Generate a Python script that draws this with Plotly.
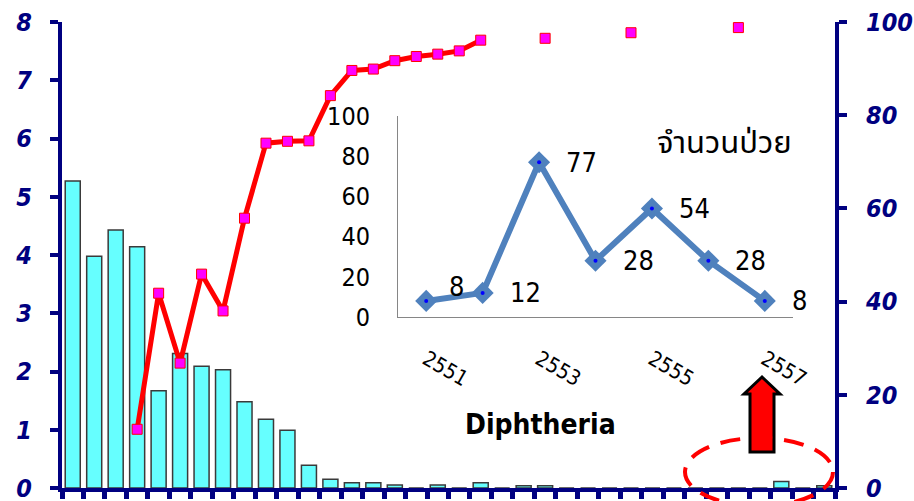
import plotly.graph_objects as go

# Weekly morbidity rate (left axis, bars) and cumulative percent (right axis, line)
weeks = list(range(1, 37))
rate = [5.27, 3.98, 4.43, 4.14, 1.67, 2.31, 2.09, 2.03, 1.48, 1.18, 0.99, 0.39,
        0.15, 0.09, 0.09, 0.05, 0.0, 0.05, 0.0, 0.09, 0.0, 0.04, 0.04, 0.0,
        0.0, 0.0, 0.0, 0.0, 0.0, 0.0, 0.0, 0.0, 0.0, 0.11, 0.0, 0.04]
cum_pct = [None, None, None, 12.6, 41.8, 26.8, 45.9, 38.0, 57.9, 74.0, 74.4, 74.5,
           84.2, 89.6, 89.9, 91.7, 92.6, 93.1, 93.8, 96.1, None, None, 96.5, None,
           None, None, 97.7, None, None, None, None, 98.8, None, None, None, None]

# Reported patients per year (inset chart)
years = ["2551", "2552", "2553", "2554", "2555", "2556", "2557"]
patients = [8, 12, 77, 28, 54, 28, 8]
year_ticks = ["2551", "2553", "2555", "2557"]

NAVY = "#000080"
FONT = "DejaVu Sans Condensed, DejaVu Sans, sans-serif"
THAI_FONT = "Noto Sans Thai, Tahoma, DejaVu Sans, sans-serif"

W, H = 914, 501
ML, MR, MT, MB = 62, 79, 22, 13
PW, PH = W - ML - MR, H - MT - MB


def fx(px):
    """Figure pixel column -> paper fraction of the plot area."""
    return (px - ML) / PW


def fy(py):
    """Figure pixel row -> paper fraction of the plot area."""
    return (H - MB - py) / PH


fig = go.Figure()

fig.add_trace(go.Bar(
    x=weeks, y=rate, width=0.7,
    marker=dict(color="#66FFFF", line=dict(color="#3a3a3a", width=1.5)),
    xaxis="x", yaxis="y", showlegend=False,
))

fig.add_trace(go.Scatter(
    x=weeks, y=cum_pct, mode="lines+markers", connectgaps=False,
    line=dict(color="#FF0000", width=5),
    marker=dict(symbol="square", size=10, color="#FF00FF",
                line=dict(color="#FF0000", width=1)),
    xaxis="x", yaxis="y2", showlegend=False,
))

fig.add_trace(go.Scatter(
    x=years, y=patients, mode="lines+markers",
    line=dict(color="#4F81BD", width=6),
    marker=dict(symbol="diamond", size=17, color="#4F81BD"),
    xaxis="x2", yaxis="y3", showlegend=False,
))
fig.add_trace(go.Scatter(
    x=years, y=patients, mode="markers",
    marker=dict(size=4, color="#0000FF"),
    xaxis="x2", yaxis="y3", showlegend=False,
))

main_tickfont = dict(family=FONT, size=25, color=NAVY, weight="bold", style="italic")

fig.update_layout(
    width=W, height=H,
    margin=dict(l=ML, r=MR, t=MT, b=MB, autoexpand=False),
    paper_bgcolor="white", plot_bgcolor="rgba(0,0,0,0)",
    bargap=0.3,
    xaxis=dict(
        range=[0.5, 36.5], tickmode="array",
        tickvals=[w + 0.5 for w in range(0, 37)],
        showticklabels=False, ticks="outside", ticklen=7, tickwidth=5,
        tickcolor=NAVY, showline=True, linewidth=4, linecolor=NAVY,
        showgrid=False, zeroline=False, automargin=False,
    ),
    yaxis=dict(
        range=[0, 8], dtick=1, ticks="outside", ticklen=8, tickwidth=4,
        tickcolor=NAVY, showline=True, linewidth=4, linecolor=NAVY,
        showgrid=False, zeroline=False, tickfont=main_tickfont,
        ticklabelstandoff=13, automargin=False, ticklabeloverflow="allow",
    ),
    yaxis2=dict(
        overlaying="y", side="right", range=[0, 100], dtick=20,
        ticks="outside", ticklen=8, tickwidth=4, tickcolor=NAVY,
        showline=True, linewidth=4, linecolor=NAVY,
        showgrid=False, zeroline=False, tickfont=main_tickfont,
        ticklabelstandoff=14, automargin=False, ticklabeloverflow="allow",
    ),
    xaxis2=dict(
        domain=[fx(398), fx(793)], anchor="y3", type="category",
        categoryorder="array", categoryarray=years,
        range=[-0.5, len(years) - 0.5],
        tickmode="array", tickvals=year_ticks, ticktext=year_ticks,
        tickangle=30, ticks="", showline=True, linewidth=1,
        linecolor="#868686", showgrid=False, zeroline=False,
        tickfont=dict(family=FONT, size=21, color="black"),
        ticklabelstandoff=21, automargin=False,
    ),
    yaxis3=dict(
        domain=[fy(317), fy(116)], anchor="x2", range=[0, 100], dtick=20,
        ticks="", showline=True, linewidth=1, linecolor="#868686",
        showgrid=False, zeroline=False,
        tickfont=dict(family=FONT, size=25, color="black"),
        ticklabelstandoff=22, automargin=False,
    ),
)

# Value labels next to each inset point (x given as category index)
annotations = []
for i, val in enumerate(patients):
    annotations.append(dict(
        x=i, y=val, xref="x2", yref="y3", text=str(val), showarrow=False,
        xanchor="left", yanchor="middle",
        xshift=21 if i == 0 else 25, yshift=14 if i == 0 else 0,
        font=dict(family=FONT, size=27, color="black"),
    ))

annotations.append(dict(
    x=fx(724), y=fy(143), xref="paper", yref="paper", text="จำนวนป่วย",
    showarrow=False, xanchor="center", yanchor="middle",
    font=dict(family=THAI_FONT, size=31, color="black"),
))
annotations.append(dict(
    x=fx(540), y=fy(424), xref="paper", yref="paper", text="<b>Diphtheria</b>",
    showarrow=False, xanchor="center", yanchor="middle",
    font=dict(family=FONT, size=28, color="black"),
))
fig.update_layout(annotations=annotations)

# Up arrow and dashed ellipse highlighting the latest weeks
arrow_pts = [(762, 377), (744, 394), (750, 394), (750, 452),
             (774, 452), (774, 394), (780, 394)]
arrow_path = "M " + " L ".join(f"{fx(x):.5f},{fy(y):.5f}" for x, y in arrow_pts) + " Z"
fig.add_shape(type="path", path=arrow_path, xref="paper", yref="paper",
              fillcolor="#FF0000", line=dict(color="black", width=3))
fig.add_shape(type="circle", xref="paper", yref="paper",
              x0=fx(685), x1=fx(833), y0=fy(506), y1=fy(438),
              line=dict(color="#FF0000", width=4, dash="20px,12px"))

fig.write_html("out.html")
